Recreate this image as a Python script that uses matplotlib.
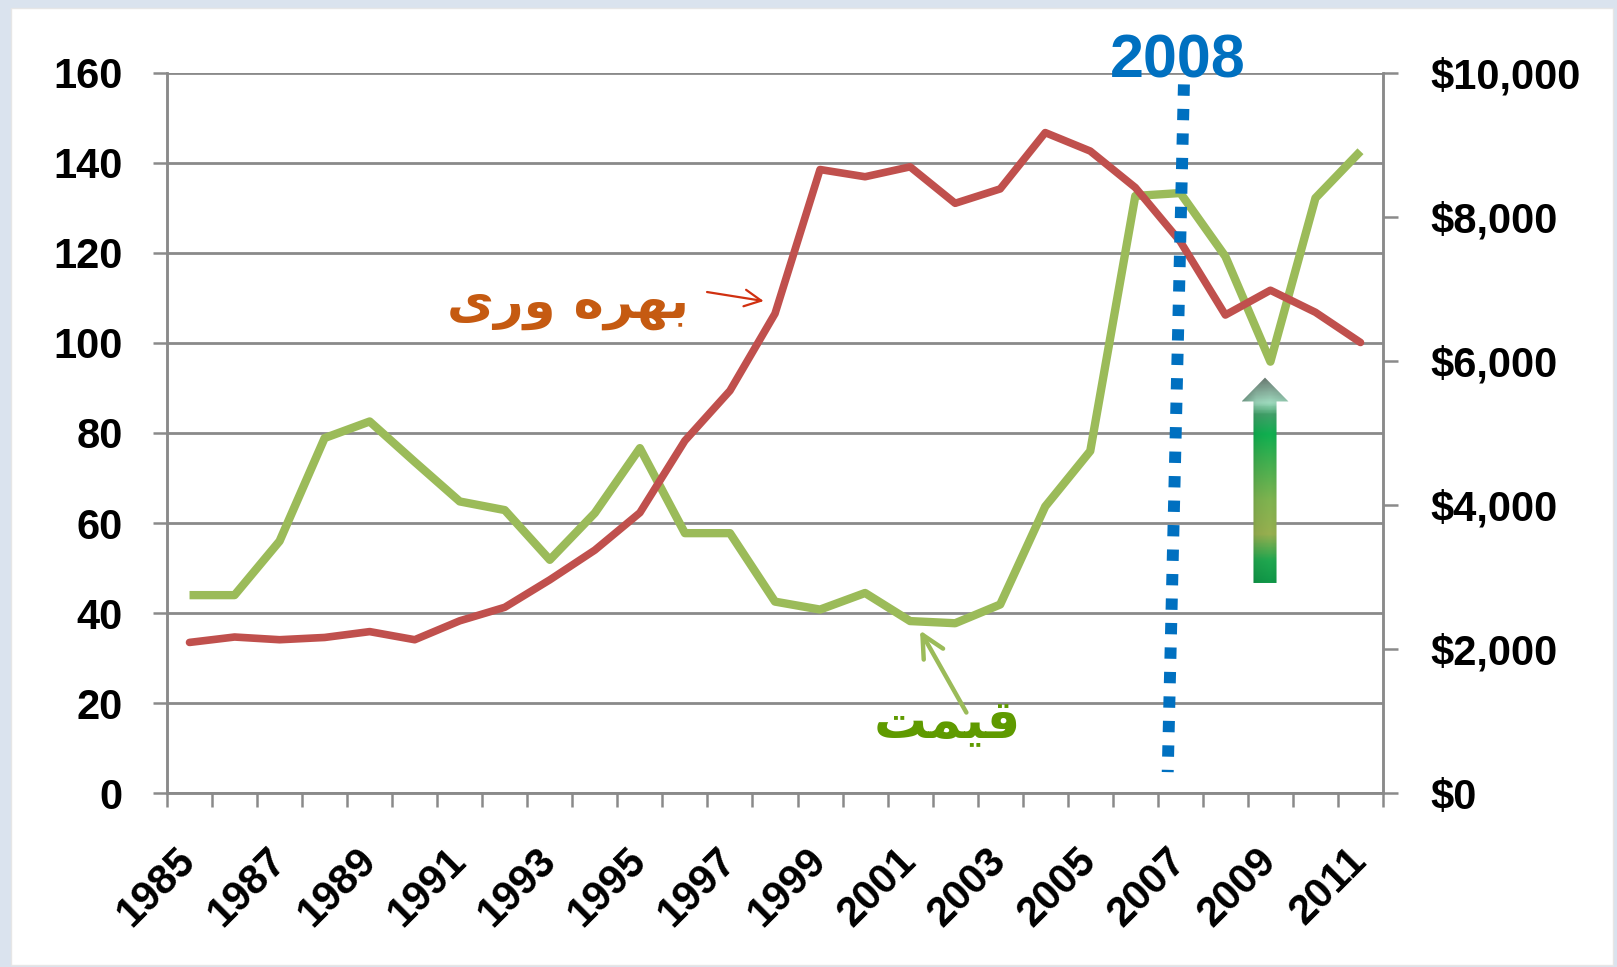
import numpy as np
import matplotlib
matplotlib.use('Agg')
import matplotlib.pyplot as plt
from matplotlib.patches import Rectangle, Polygon
from matplotlib.colors import LinearSegmentedColormap

# data
years = list(range(1985, 2012))
productivity = [33.5, 34.7, 34.1, 34.6, 35.9, 34.1, 38.3, 41.3, 47.4, 54.0, 62.3, 78.3, 89.4, 106.5,
                138.5, 136.9, 139.1, 131.0, 134.2, 146.7, 142.6, 134.5, 122.5, 106.2, 111.7, 106.8, 100.1]
price = [2750, 2750, 3500, 4930, 5160, 4600, 4050, 3930, 3240, 3890, 4790, 3610, 3610, 2660,
         2550, 2780, 2390, 2360, 2620, 3980, 4750, 8290, 8330, 7450, 5990, 8260, 8910]
left_ticks = [0, 20, 40, 60, 80, 100, 120, 140, 160]
right_ticks = [0, 2000, 4000, 6000, 8000, 10000]
right_labels = ['$0', '$2,000', '$4,000', '$6,000', '$8,000', '$10,000']
label_productivity = 'بهره وری'
label_price = 'قیمت'
label_year = '2008'

# matplotlib does no arabic shaping, so build presentation forms by hand
# letter: (isolated, final, initial, medial), None = does not join to the left
FORMS = {
    'ب': ('\uFE8F', '\uFE90', '\uFE91', '\uFE92'),
    'ت': ('\uFE95', '\uFE96', '\uFE97', '\uFE98'),
    'ه': ('\uFEE9', '\uFEEA', '\uFEEB', '\uFEEC'),
    'ر': ('\uFEAD', '\uFEAE', None, None),
    'و': ('\uFEED', '\uFEEE', None, None),
    'ی': ('\uFEEF', '\uFEF0', '\uFEF3', '\uFEF4'),
    'ق': ('\uFED5', '\uFED6', '\uFED7', '\uFED8'),
    'م': ('\uFEE1', '\uFEE2', '\uFEE3', '\uFEE4'),
}

def shape(text):
    out = []
    for word in text.split(' '):
        chars = []
        for i, c in enumerate(word):
            f = FORMS[c]
            prev_joins = i > 0 and FORMS[word[i - 1]][2] is not None
            next_joins = i < len(word) - 1 and f[2] is not None
            if prev_joins and next_joins:
                chars.append(f[3])
            elif prev_joins:
                chars.append(f[1])
            elif next_joins:
                chars.append(f[2])
            else:
                chars.append(f[0])
        out.append(''.join(chars[::-1]))
    return ' '.join(out[::-1])

W, H = 1617, 967
fig = plt.figure(figsize=(W / 100, H / 100), dpi=100)
fig.patch.set_facecolor('#dae3ee')
fig.patches.append(Rectangle((11 / W, 2 / H), 1602 / W, 957 / H, transform=fig.transFigure,
                             facecolor='white', edgecolor='#e6e6e6', lw=1, zorder=-5))

ax = fig.add_axes([167 / W, 1 - 793.3 / H, 1216 / W, 720.6 / H])
ax.set_facecolor('none')
ax2 = ax.twinx()

grid_c = '#8a8a8a'
x = np.arange(len(years))

ax.plot(x, productivity, color='#c0504d', lw=5.5, solid_capstyle='round', zorder=4)
ax2.plot(x, price, color='#9bbb59', lw=6, solid_capstyle='butt', zorder=4)

ax.set_xlim(-0.5, len(years) - 0.5)
ax.set_ylim(0, 160)
ax2.set_ylim(0, 10000)

for v in left_ticks:
    ax2.axhline(v / 160 * 10000, color=grid_c, lw=2, zorder=1)

for a in (ax, ax2):
    a.spines['top'].set_visible(False)
    for s in ['left', 'right', 'bottom']:
        a.spines[s].set_color(grid_c)
        a.spines[s].set_linewidth(1.8)

tick_font = {'family': ['Liberation Sans', 'DejaVu Sans'], 'weight': 'bold', 'size': 30}

ax.set_yticks(left_ticks)
ax.set_yticklabels([str(v) for v in left_ticks], fontdict=tick_font)
ax.tick_params(axis='y', length=10, width=1.8, color=grid_c, pad=22)

ax2.set_yticks(right_ticks)
ax2.set_yticklabels(right_labels, fontdict=tick_font)
ax2.tick_params(axis='y', length=11, width=1.8, color=grid_c, pad=23)

ax.set_xticks(x[::2])
ax.set_xticklabels([str(y) for y in years[::2]], fontdict=tick_font, rotation=45,
                   ha='right', va='center', rotation_mode='anchor')
ax.set_xticks(np.arange(-0.5, len(years), 1), minor=True)
ax.tick_params(axis='x', which='major', length=0, pad=44)
ax.tick_params(axis='x', which='minor', length=10, width=1.8, color=grid_c)

# 2008 dotted marker
ax.plot([22.08, 21.72], [157.4, 4.7], color='#0070c0', lw=8.6, dashes=(0.95, 1.1),
        dash_capstyle='butt', zorder=5, clip_on=False)
fig.text(1178 / W, 1 - 62 / H, label_year, color='#0070c0', fontsize=44, fontweight='bold',
         family=['Liberation Sans', 'DejaVu Sans'], ha='center', va='center', zorder=6)

# labels with arrows
ax.text(8.41, 108.5, shape(label_productivity), color='#c55a11', fontsize=37, fontweight='bold',
        ha='center', va='center', zorder=6)
ax.annotate('', xy=(12.81, 109.2), xytext=(11.43, 111.4),
            arrowprops=dict(arrowstyle='->', color='#d03010', lw=1.6, mutation_scale=30), zorder=6)
ax.text(16.83, 15.5, shape(label_price), color='#5f9a00', fontsize=38, fontweight='bold',
        ha='center', va='center', zorder=6)
ax.annotate('', xy=(16.19, 36.7), xytext=(17.28, 17.4),
            arrowprops=dict(arrowstyle='->', color='#9bbb59', lw=3.2, mutation_scale=40), zorder=6)

# gradient block arrow
cx, y0, yb, yt = 23.88, 46.7, 87.0, 92.3
sw, hw = 0.256, 0.52
arrow_poly = Polygon([(cx - sw, y0), (cx + sw, y0), (cx + sw, yb), (cx + hw, yb), (cx, yt),
                      (cx - hw, yb), (cx - sw, yb)], closed=True, facecolor='none',
                     edgecolor='none', transform=ax.transData)
ax.add_patch(arrow_poly)
stops = [(0.0, '#109848'), (0.106, '#20a850'), (0.236, '#98b050'), (0.4, '#80b450'),
         (0.593, '#40b050'), (0.724, '#10b050'), (0.82, '#40a068'), (0.878, '#a0dcc0'),
         (1.0, '#6a7a72')]
cmap = LinearSegmentedColormap.from_list('arrow', stops)
ny, nx = 200, 40
col = cmap(np.linspace(0, 1, ny))[:, :3]
shade = np.interp(np.linspace(0, 1, nx), [0, 0.3, 0.6, 1], [0.7, 0.95, 1.0, 0.9])
img = col[:, None, :] * shade[None, :, None]
im = ax.imshow(img, extent=[cx - hw, cx + hw, y0, yt], origin='lower', aspect='auto',
               interpolation='bilinear', zorder=3)
im.set_clip_path(arrow_poly)

ax.set_xlim(-0.5, len(years) - 0.5)
ax.set_ylim(0, 160)
ax.set_zorder(ax2.get_zorder() + 1)

fig.savefig('out.png', dpi=100)
